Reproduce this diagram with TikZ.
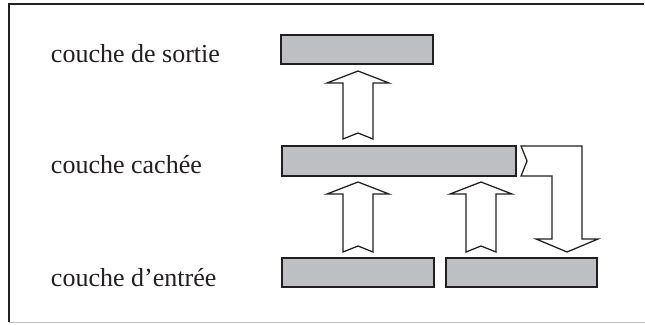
\documentclass[tikz,border=0pt]{standalone}
\usepackage{fontspec}
\setmainfont{Liberation Serif}
\usetikzlibrary{positioning,calc}
\definecolor{layCol}{RGB}{190,191,194}
\definecolor{inkCol}{RGB}{35,31,32}
\tikzset{
  layer/.style={draw=inkCol,line width=1pt,fill=layCol,inner sep=0pt,outer sep=0pt},
  lab/.style={anchor=base west,font=\fontsize{18.5}{22}\selectfont,text=inkCol},
  barrow/.style={draw=inkCol,line width=0.9pt,fill=white,line join=miter},
}
% block arrow pointing up: tail centre, tip
\newcommand\blockup[2]{%
  \draw[barrow] ($(#1)+(-15,0)$) -- ($(#1)+(0,6)$) -- ($(#1)+(15,0)$)
    -- ($(#2)+(15,-12)$) -- ($(#2)+(31,-12)$) -- (#2) -- ($(#2)+(-31,-12)$)
    -- ($(#2)+(-15,-12)$) -- cycle;}

\begin{document}
\begin{tikzpicture}[x=0.025cm,y=0.025cm]
  \useasboundingbox (0,0) rectangle (645,324);
  \draw[inkCol,line width=1.5pt] (9,2) -- (9,320) -- (644,320);
  \draw[black!25,line width=0.6pt] (9,2) -- (645,2);

  \node[lab] (tout) at (46,262) {couche de sortie};
  \node[lab] (thid) at (46,151) {couche cachée};
  \node[lab] (tin)  at (46,38)  {couche d’entrée};

  \node[layer,minimum width=3.8cm,minimum height=0.725cm] (out) at (357,274.5) {};
  \node[layer,minimum width=5.85cm,minimum height=0.75cm] (hid) at (399,163) {};
  \node[layer,minimum width=3.8cm,minimum height=0.725cm] (in1) at (358,51.5) {};
  \node[layer,minimum width=3.775cm,minimum height=0.725cm,right=0.3cm of in1] (in2) {};

  \coordinate (a0b) at ($(hid.north)+(-41,7)$);
  \coordinate (a0t) at ($(out.south)+(1,-7)$);
  \coordinate (a1b) at ($(in1.north)+(0,6)$);
  \coordinate (a1t) at (a1b |- {$(hid.south)+(0,-6)$});
  \coordinate (a2b) at ($(in2.north west)+(35,6)$);
  \coordinate (a2t) at (a2b |- a1t);
  \blockup{a0b}{a0t}
  \blockup{a1b}{a1t}
  \blockup{a2b}{a2t}

  % loop back from hidden layer
  \coordinate (fbt) at ($(in2.north east)+(-30,6)$);
  \draw[barrow] ($(hid.north east)+(5,0)$) -- ($(fbt |- hid.north)+(15,0)$)
    -- ($(fbt)+(15,13)$) -- ($(fbt)+(31,13)$) -- (fbt) -- ($(fbt)+(-31,13)$)
    -- ($(fbt)+(-15,13)$) -- ($(fbt |- hid.south)+(-15,0)$)
    -- ($(hid.south east)+(5,0)$) -- ($(hid.east)+(11,0)$) -- cycle;
\end{tikzpicture}
\end{document}
